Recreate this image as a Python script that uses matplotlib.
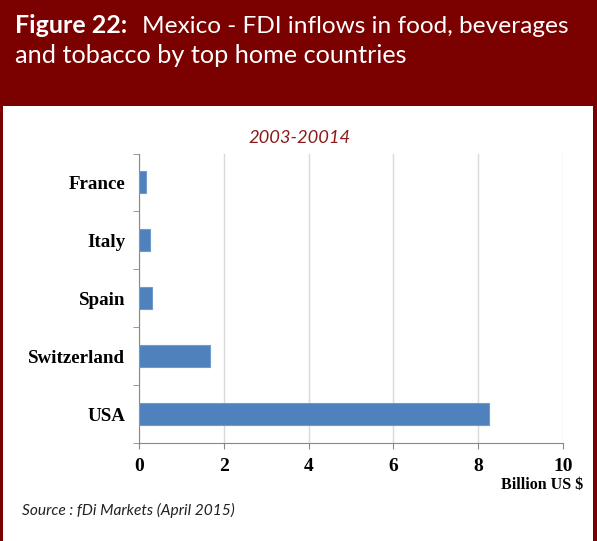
import matplotlib.pyplot as plt
from matplotlib.patches import Rectangle

countries = ["USA", "Switzerland", "Spain", "Italy", "France"]
values = [8.25, 1.68, 0.31, 0.25, 0.16]
x_ticks = [0, 2, 4, 6, 8, 10]

DARK_RED = "#7b0000"
BAR_BLUE = "#4f81bd"
W, H = 597, 541

fig = plt.figure(figsize=(W / 100, H / 100), dpi=100)

# header band and side borders
fig.patches.append(Rectangle((0, 1 - 106 / H), 1, 106 / H, transform=fig.transFigure,
                             facecolor=DARK_RED, edgecolor="none", zorder=0))
fig.patches.append(Rectangle((0, 0), 3 / W, 1, transform=fig.transFigure,
                             facecolor=DARK_RED, edgecolor="none", zorder=0))
fig.patches.append(Rectangle((1 - 4 / W, 0), 4 / W, 1, transform=fig.transFigure,
                             facecolor=DARK_RED, edgecolor="none", zorder=0))

fig.text(15 / W, 1 - 33 / H, "Figure 22:", color="white", fontsize=18,
         fontweight="bold", family="Lato", va="baseline")
fig.text(142 / W, 1 - 33 / H, "Mexico - FDI inflows in food, beverages", color="white",
         fontsize=17.6, family="Lato", va="baseline")
fig.text(15 / W, 1 - 63 / H, "and tobacco by top home countries", color="white",
         fontsize=18.2, family="Lato", va="baseline")

ax = fig.add_axes([139 / W, 1 - 443 / H, 424 / W, 289.5 / H])
ypos = list(range(len(countries)))
ax.barh(ypos, values, height=0.38, color=BAR_BLUE, edgecolor="#6f9ad0", linewidth=0.8, zorder=3)

ax.set_xlim(0, 10)
ax.set_ylim(-0.5, len(countries) - 0.5)
ax.set_xticks(x_ticks)
ax.set_xticklabels([str(t) for t in x_ticks], family="Liberation Serif",
                   fontweight="bold", fontsize=14)
ax.set_yticks(ypos)
ax.set_yticklabels(countries, family="Liberation Serif", fontweight="bold", fontsize=13.7)
ax.set_yticks([i + 0.5 for i in range(-1, len(countries))], minor=True)

ax.grid(axis="x", color="#d9d9d9", linewidth=1, zorder=0)
for side in ["top", "right"]:
    ax.spines[side].set_visible(False)
for side in ["left", "bottom"]:
    ax.spines[side].set_color("#888888")
ax.tick_params(axis="y", which="major", length=0, pad=10)
ax.tick_params(axis="y", which="minor", length=4, color="#888888")
ax.tick_params(axis="x", length=4, color="#888888", pad=7)

fig.text(300 / W, 1 - 143 / H, "2003-20014", fontsize=13.2, style="italic", color="#8b1a1a",
         family="Lato", ha="center", va="baseline")

fig.text(583 / W, 1 - 485 / H, "Billion US $", family="Liberation Serif",
         fontweight="bold", fontsize=11.5, ha="right", va="center")
fig.text(22 / W, 1 - 510 / H, "Source : fDi Markets (April 2015)", fontsize=11.2,
         style="italic", family="Lato", va="center", color="#222222")

fig.savefig("out.png", dpi=100)
